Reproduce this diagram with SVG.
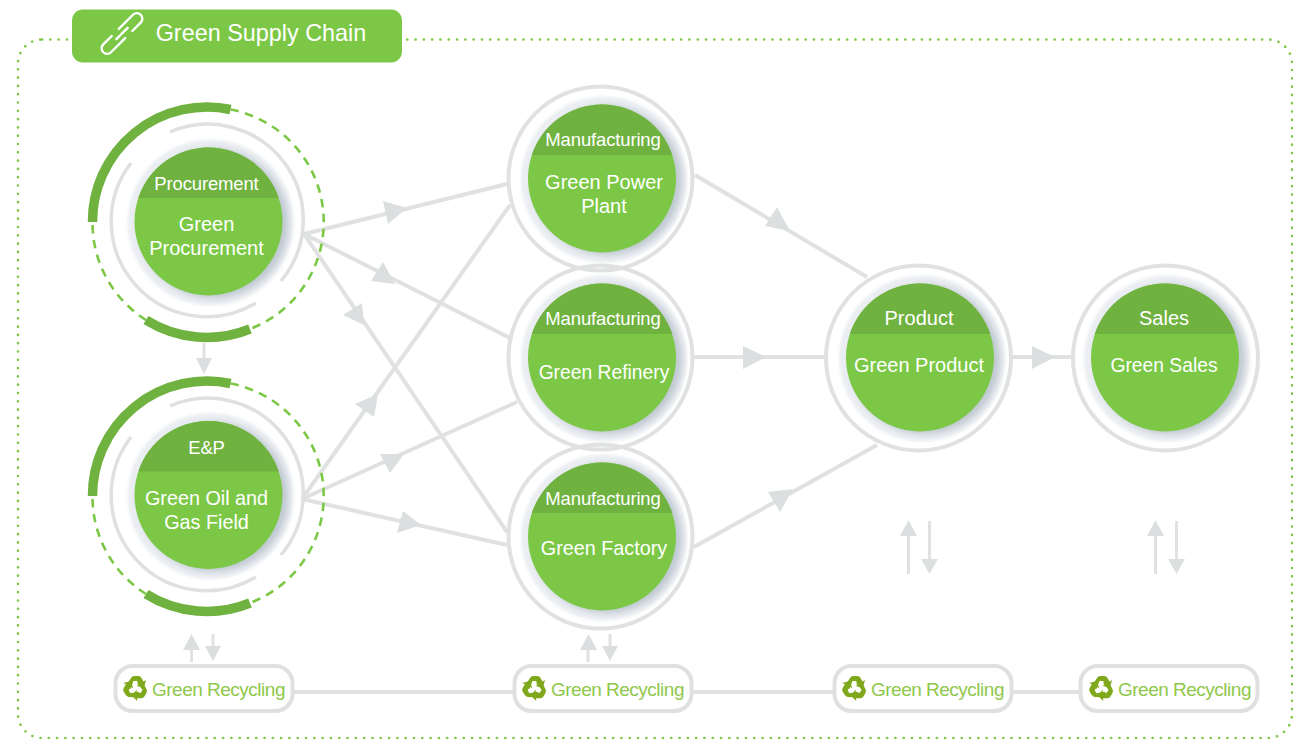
<svg xmlns="http://www.w3.org/2000/svg" xmlns:xlink="http://www.w3.org/1999/xlink" width="1293" height="739" viewBox="0 0 1293 739">
<style>
text{font-family:"Liberation Sans",Arial,sans-serif;text-anchor:middle;fill:#fff}
.hd{font-size:18.5px;letter-spacing:-.15px}
.hl{font-size:20px}
.bd{font-size:20px}
.bm{font-size:19.800px}
.bs{font-size:19.300px}
.ln{fill:none;stroke:#e0e1e1;stroke-width:4}
.hn{fill:#dcdfdf;stroke:none}
.thin{fill:none;stroke:#e0e1e1;stroke-width:3}
.ring{fill:none;stroke:#e0e1e1;stroke-width:4}
.arcg{fill:none;stroke:#dfe0e0;stroke-width:3.5}
.thick{fill:none;stroke:#70b23f;stroke-width:9.5}
.dash{fill:none;stroke:#7cc846;stroke-width:2.6;stroke-dasharray:8.5 6.5}
.box{fill:#fff;stroke:#dfe0e0;stroke-width:4}
.rc{font-size:19px;fill:#8fc84a;text-anchor:start;letter-spacing:-.5px}
</style>
<defs>
<filter id="b3" x="-20%" y="-20%" width="140%" height="140%"><feGaussianBlur stdDeviation="3"/></filter>
<filter id="b1" x="-20%" y="-20%" width="140%" height="140%"><feGaussianBlur stdDeviation="1.5"/></filter>
<g id="disc">
<circle cx="2" cy="1" r="83" fill="#ebeef2" filter="url(#b1)"/>
<circle cx="5" cy="2" r="75" fill="#c0c9d1" filter="url(#b3)"/>
<circle r="74" fill="#7cc846"/>
<path d="M-70.2,-23.5 A74,74 0 0 1 70.2,-23.5 Z" fill="#70b23f"/>
</g>
<g id="orbit">
<path class="arcg" d="M131,163 A95.5,95.5 0 0 0 256,303"/>
<path class="arcg" d="M170,132 A95.5,95.5 0 0 1 281,281"/>
<path class="dash" d="M230.5,109.5 A114.5,114.5 0 0 1 250,329"/>
<path class="dash" d="M146,320 A114.5,114.5 0 0 1 92.5,224"/>
<path class="thick" d="M92.5,222 A114.5,114.5 0 0 1 230.5,109.5"/>
<path class="thick" d="M146,320 A114.5,114.5 0 0 0 250,329"/>
</g>
<path id="seg" fill="#7fa81c" d="M-10,-1.5 L-4.5,-10 Q-3.5,-12 -1,-12 H3 Q5,-12 6,-10 L8,-6.5 L10.5,-8 L8.5,-0.5 L1,-2 L3.5,-3.5 L1.5,-7 H-2 L-5,1 Z"/>
<g id="recycle"><use xlink:href="#seg" href="#seg"/><use xlink:href="#seg" href="#seg" transform="rotate(120)"/><use xlink:href="#seg" href="#seg" transform="rotate(240)"/></g>
</defs>
<rect width="1293" height="739" fill="#fff"/>
<rect id="frame" x="18" y="39.5" width="1274" height="698.5" rx="24" fill="none" stroke="#7cc846" stroke-width="2.6" stroke-linecap="round" stroke-dasharray="0.1 8.2"/>
<g id="connectors">
<path class="ln" d="M304,234 L507,184"/><polygon class="hn" points="383,201 407,208 388,224"/>
<path class="ln" d="M304,234 L510,338"/><polygon class="hn" points="371,281 383,262 395,284"/>
<path class="ln" d="M304,234 L507,532"/><polygon class="hn" points="343,315 362,303 364,325"/>
<path class="ln" d="M302,499 L510,205"/><polygon class="hn" points="355,404 374,417 378,394"/>
<path class="ln" d="M302,499 L517,402"/><polygon class="hn" points="380,454 390,473 404,454"/>
<path class="ln" d="M302,499 L507,545"/><polygon class="hn" points="403,511 397,533 421,525"/>
<path class="ln" d="M695,175 L867,277"/><polygon class="hn" points="777,207 765,226 790,231"/>
<path class="ln" d="M694,357 L824,357"/><polygon class="hn" points="743,346 743,369 766,357"/>
<path class="ln" d="M694,547 L877,445"/><polygon class="hn" points="768,492 780,512 793,489"/>
<path class="ln" d="M1012,357 L1071,357"/><polygon class="hn" points="1032,346 1032,369 1055,357"/>
<path class="thin" d="M204,343 V360"/><polygon class="hn" points="196,358 212,358 204,374"/>
<path class="ln" d="M294,692 H515 M692,692 H835 M1012,692 H1081"/>
<path class="thin" d="M191.500,662 V648"/><polygon class="hn" points="183,650 200,650 191.500,634"/>
<path class="thin" d="M213,634 V648"/><polygon class="hn" points="205,646 221,646 213,661"/>
<path class="thin" d="M588,662 V648"/><polygon class="hn" points="580,650 597,650 588.500,634"/>
<path class="thin" d="M610,634 V648"/><polygon class="hn" points="602,646 618,646 610,661"/>
<path class="thin" d="M908.500,574 V533"/><polygon class="hn" points="900,536 917,536 908.500,520"/>
<path class="thin" d="M929.500,521 V560"/><polygon class="hn" points="921,559 938,559 929.500,574"/>
<path class="thin" d="M1155.500,574 V533"/><polygon class="hn" points="1147,536 1164,536 1155.500,520"/>
<path class="thin" d="M1176.500,521 V560"/><polygon class="hn" points="1168,559 1185,559 1176.500,574"/>
</g>
<g id="title">
<rect x="72" y="9.500" width="330" height="53" rx="11" fill="#7cc846"/>
<g transform="translate(122,33.500) rotate(-45)" fill="none" stroke="#fff" stroke-width="2.400" stroke-linecap="round">
<path d="M1,-5.500 H21 A5.500,5.500 0 0 1 21,5.500 H9 M8,0 H-1"/>
<path d="M-1,5.500 H-21 A5.500,5.500 0 0 1 -21,-5.500 H-9 M-8,0 H-3"/>
</g>
<text x="261" y="41" font-size="23.400" fill="#fff">Green Supply Chain</text>
</g>
<g id="node-procurement">
<use xlink:href="#orbit" href="#orbit"/>
<use xlink:href="#disc" href="#disc" transform="translate(208.500,221.500)"/>
<text class="hd" x="206.500" y="190">Procurement</text>
<text class="bd" x="206.500" y="231">Green</text>
<text class="bd" x="206.500" y="255">Procurement</text>
</g>
<g id="node-ep">
<use xlink:href="#orbit" href="#orbit" transform="translate(0,274)"/>
<use xlink:href="#disc" href="#disc" transform="translate(208.500,495)"/>
<text class="hd" x="206.500" y="454">E&amp;P</text>
<text class="bm" x="206.500" y="505">Green Oil and</text>
<text class="bm" x="206.500" y="529">Gas Field</text>
</g>
<g id="node-power">
<circle class="ring" cx="600.500" cy="178.500" r="92"/>
<use xlink:href="#disc" href="#disc" transform="translate(602,178.500)"/>
<text class="hd" x="603" y="146">Manufacturing</text>
<text class="bd" x="604" y="189">Green Power</text>
<text class="bd" x="604" y="213">Plant</text>
</g>
<g id="node-refinery">
<circle class="ring" cx="600.500" cy="357.500" r="92"/>
<use xlink:href="#disc" href="#disc" transform="translate(602,357.500)"/>
<text class="hd" x="603" y="325">Manufacturing</text>
<text class="bs" x="604" y="379">Green Refinery</text>
</g>
<g id="node-factory">
<circle class="ring" cx="600.500" cy="536.500" r="92"/>
<use xlink:href="#disc" href="#disc" transform="translate(602,536.500)"/>
<text class="hd" x="603" y="505">Manufacturing</text>
<text class="bm" x="604" y="555">Green Factory</text>
</g>
<g id="node-product">
<circle class="ring" cx="918.500" cy="358" r="92.500"/>
<use xlink:href="#disc" href="#disc" transform="translate(920,357.500)"/>
<text class="hl" x="919" y="325">Product</text>
<text class="bd" x="919" y="372">Green Product</text>
</g>
<g id="node-sales">
<circle class="ring" cx="1165.500" cy="358" r="92.500"/>
<use xlink:href="#disc" href="#disc" transform="translate(1165,357.500)"/>
<text class="hl" x="1164" y="325">Sales</text>
<text class="bs" x="1164" y="372">Green Sales</text>
</g>
<g id="node-recycling-1">
<rect class="box" x="115.500" y="666" width="177" height="45" rx="17"/>
<use xlink:href="#recycle" href="#recycle" transform="translate(135.500,688)"/>
<text class="rc" x="152" y="696">Green Recycling</text>
</g>
<g id="node-recycling-2">
<rect class="box" x="514.500" y="666" width="177" height="45" rx="17"/>
<use xlink:href="#recycle" href="#recycle" transform="translate(534.500,688)"/>
<text class="rc" x="551" y="696">Green Recycling</text>
</g>
<g id="node-recycling-3">
<rect class="box" x="834.500" y="666" width="177" height="45" rx="17"/>
<use xlink:href="#recycle" href="#recycle" transform="translate(854.500,688)"/>
<text class="rc" x="871" y="696">Green Recycling</text>
</g>
<g id="node-recycling-4">
<rect class="box" x="1080.500" y="666" width="177" height="45" rx="17"/>
<use xlink:href="#recycle" href="#recycle" transform="translate(1101.500,688)"/>
<text class="rc" x="1118" y="696">Green Recycling</text>
</g>
</svg>
